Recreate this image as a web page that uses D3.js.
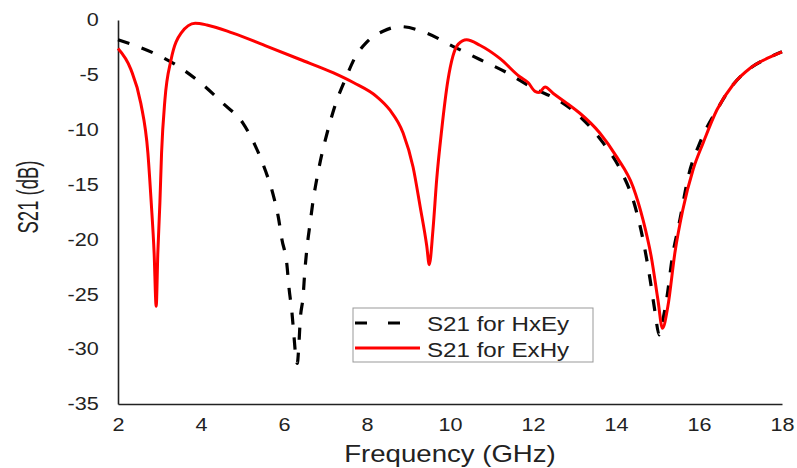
<!DOCTYPE html>
<html>
<head>
<meta charset="utf-8">
<script src="https://cdn.jsdelivr.net/npm/d3@7"></script>
<style>
  body { margin: 0; background: #fff; }
  text { font-family: "Liberation Sans", Arial, sans-serif; fill: #222; }
</style>
</head>
<body>
<div id="chart"></div>
<script>
  // values (GHz, dB)
  const freq_hxey = [2.0, 2.85, 3.4, 3.98, 4.53, 5.01, 5.3, 5.54, 5.73, 5.86, 5.95, 6.07, 6.12, 6.19, 6.24, 6.29, 6.32,
    6.36, 6.39, 6.46, 6.5, 6.55, 6.63, 6.7, 6.8, 6.92, 7.06, 7.23, 7.5, 7.7, 8.0, 8.4, 8.8, 9.44, 10.07, 10.72, 11.37,
    12.0, 12.65, 13.13, 13.69, 14.1, 14.46, 14.65, 14.82, 14.94, 15.04, 15.12, 15.23, 15.35, 15.54, 15.74, 16.02,
    16.43, 16.82, 17.23, 17.64, 18.0];
  const s21_hxey = [-1.8, -3.0, -4.1, -5.7, -7.6, -9.4, -11.4, -13.6, -15.8, -17.9, -20.0, -22.3, -24.4, -26.6, -28.8, -30.9, -31.3,
    -29.5, -27.4, -25.2, -23.0, -20.9, -18.5, -16.5, -14.3, -12.1, -10.0, -7.8, -5.2, -3.5, -2.0, -1.0, -0.6, -1.2, -2.4, -3.6, -4.8,
    -6.2, -7.4, -8.8, -11.2, -13.6, -17.0, -20.0, -23.6, -26.6, -28.7, -27.5, -25.2, -21.8, -18.2, -14.3, -11.2,
    -8.2, -5.9, -4.4, -3.5, -2.9];

  const freq_exhy = [2.0, 2.31, 2.55, 2.72, 2.8, 2.87, 2.92, 2.96, 3.01, 3.05, 3.13, 3.28, 3.52, 3.86, 4.14, 4.77, 5.59,
    6.39, 7.18, 7.67, 8.24, 8.55, 8.87, 9.11, 9.28, 9.44, 9.5, 9.59, 9.68, 9.8, 9.95, 10.07, 10.2, 10.4, 10.72, 11.2,
    11.69, 11.88, 12.05, 12.15, 12.29, 12.49, 12.82, 13.13, 13.61, 14.02, 14.41, 14.65, 14.86, 15.01, 15.12, 15.25,
    15.42, 15.61, 15.86, 16.1, 16.43, 16.82, 17.23, 17.64, 18.0];
  const s21_exhy = [-2.6, -4.5, -7.6, -12.1, -16.6, -21.2, -26.1, -21.2, -16.6, -12.1, -7.3, -3.6, -1.2, -0.3, -0.45, -1.2, -2.4,
    -3.6, -4.8, -5.7, -7.0, -8.2, -10.3, -13.4, -17.0, -20.6, -22.3, -19.1, -14.5, -10.0, -5.5, -3.3, -2.2, -1.8, -2.3, -3.5,
    -5.2, -5.7, -6.5, -6.6, -6.1, -6.7, -7.6, -8.5, -10.3, -12.5, -15.2, -18.2, -21.8, -25.5, -28.1, -26.1,
    -21.2, -17.3, -13.6, -11.2, -8.2, -5.9, -4.4, -3.5, -2.9];

  const x_ticks = [2, 4, 6, 8, 10, 12, 14, 16, 18];
  const y_ticks = [0, -5, -10, -15, -20, -25, -30, -35];
  const legend_labels = ["S21 for HxEy", "S21 for ExHy"];

  const width = 797, height = 468;
  const x = d3.scaleLinear().domain([2, 18]).range([118, 782]);
  const y = d3.scaleLinear().domain([-35, 0]).range([404, 20]);

  const svg = d3.select("#chart").append("svg")
    .attr("width", width)
    .attr("height", height);

  // axes (text is a bit wide in the original, so stretch it)
  const gx = svg.append("g")
    .attr("transform", `translate(0, ${y(-35)})`)
    .call(d3.axisBottom(x).tickValues(x_ticks).tickFormat(function (d) { return String(d); })
      .tickSize(0).tickPadding(14));
  gx.selectAll("text").attr("font-size", 18).attr("transform", "scale(1.2,1)");

  const gy = svg.append("g")
    .attr("transform", `translate(${x(2)}, 0)`)
    .call(d3.axisLeft(y).tickValues(y_ticks).tickFormat(function (d) { return String(d); })
      .tickSize(0).tickPadding(16));
  gy.selectAll("text").attr("font-size", 18).attr("transform", "scale(1.2,1)");

  svg.selectAll(".domain").attr("stroke", "#222").attr("stroke-width", 1.6);

  svg.append("text")
    .attr("transform", `translate(450, 462) scale(1.2,1)`)
    .attr("text-anchor", "middle")
    .attr("font-size", 23)
    .text("Frequency (GHz)");

  svg.append("text")
    .attr("transform", `translate(38, 197) scale(1.55,1) rotate(-90)`)
    .attr("text-anchor", "middle")
    .attr("font-size", 18.5)
    .text("S21 (dB)");

  // lines
  const line = d3.line()
    .x(function (d) { return x(d[0]); })
    .y(function (d) { return y(d[1]); })
    .curve(d3.curveMonotoneX);

  svg.append("path")
    .datum(d3.zip(freq_hxey, s21_hxey))
    .attr("fill", "none")
    .attr("stroke", "#000")
    .attr("stroke-width", 3.2)
    .attr("stroke-dasharray", "12,13")
    .attr("d", line);

  svg.append("path")
    .datum(d3.zip(freq_exhy, s21_exhy))
    .attr("fill", "none")
    .attr("stroke", "#ff0000")
    .attr("stroke-width", 3)
    .attr("d", line);

  // legend
  const lg = svg.append("g");
  lg.append("rect")
    .attr("x", 353).attr("y", 308)
    .attr("width", 240).attr("height", 54)
    .attr("fill", "#fff")
    .attr("stroke", "#999")
    .attr("stroke-width", 1);
  lg.append("line")
    .attr("x1", 355).attr("x2", 400).attr("y1", 323).attr("y2", 323)
    .attr("stroke", "#000").attr("stroke-width", 3.2)
    .attr("stroke-dasharray", "12,21");
  lg.append("line")
    .attr("x1", 355).attr("x2", 420).attr("y1", 348).attr("y2", 348)
    .attr("stroke", "#ff0000").attr("stroke-width", 3);
  lg.selectAll("text.lab")
    .data(legend_labels)
    .join("text")
    .attr("class", "lab")
    .attr("transform", function (d, i) { return `translate(427, ${331 + i * 26}) scale(1.15,1)`; })
    .attr("font-size", 21)
    .text(function (d) { return d; });
</script>
</body>
</html>
